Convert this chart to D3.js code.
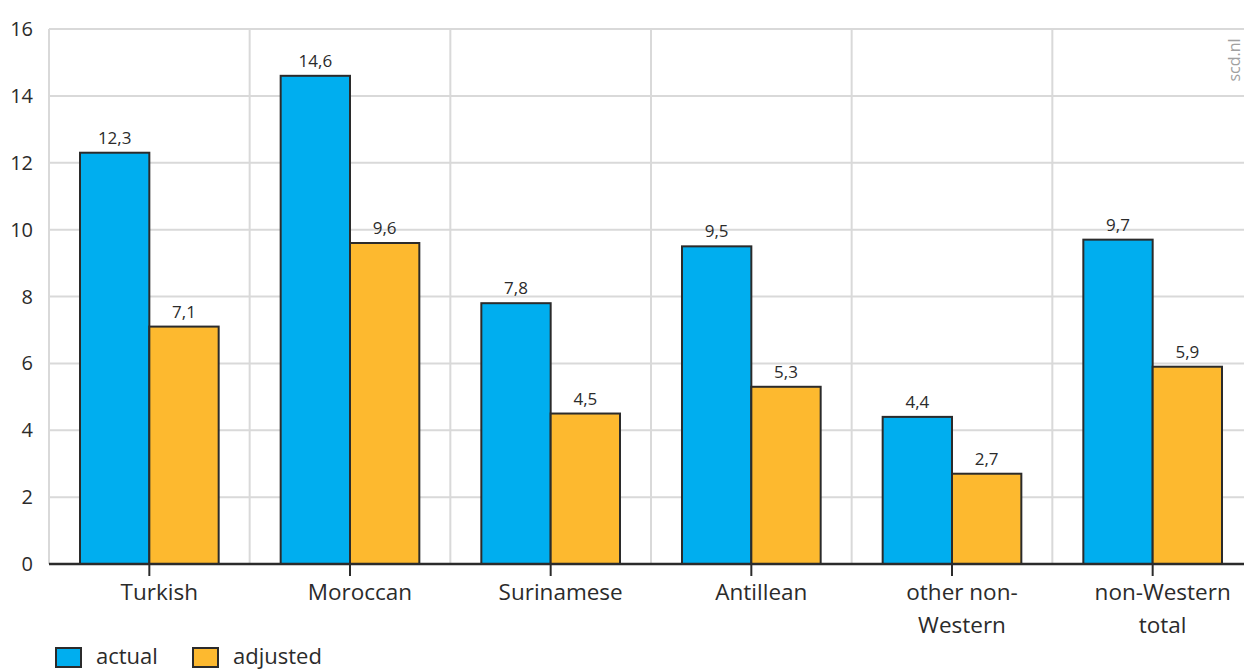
<!DOCTYPE html>
<html><head><meta charset="utf-8">
<script src="https://cdn.jsdelivr.net/npm/d3@7"></script>
<style>body{margin:0;background:#fff}svg{display:block}text{font-family:"Open Sans","Noto Sans",sans-serif;fill:#2b2b2b}</style>
</head><body><svg id="c" width="1244" height="669"></svg>
<script>
const categories = [["Turkish"],["Moroccan"],["Surinamese"],["Antillean"],["other non-","Western"],["non-Western","total"]];
const seriesNames = ["actual","adjusted"];
const actual = [12.3,14.6,7.8,9.5,4.4,9.7];
const adjusted = [7.1,9.6,4.5,5.3,2.7,5.9];
const yTicks = [0,2,4,6,8,10,12,14,16];
const colors = ["#00aeef","#fdb92f"];

(function(){
const svg = d3.select("#c");
const mLeft = 49, mRight = 1253, mTop = 29, mBottom = 564;
const x = d3.scaleBand().domain(d3.range(categories.length)).range([mLeft,mRight]).paddingInner(0).paddingOuter(0);
const y = d3.scaleLinear().domain([0,16]).range([mBottom,mTop]);
const bw = x.bandwidth();
const pad = 31;
const xs = d3.scaleBand().domain([0,1]).range([pad,bw-pad]);

const g = svg.append("g");
g.selectAll(".hg").data(yTicks.filter(d=>d>0)).join("line")
 .attr("x1",mLeft).attr("x2",mRight).attr("y1",d=>y(d)).attr("y2",d=>y(d))
 .attr("stroke","#d9d9d9").attr("stroke-width",2);
g.selectAll(".vg").data(d3.range(categories.length)).join("line")
 .attr("x1",d=>x(d)).attr("x2",d=>x(d)).attr("y1",mTop).attr("y2",mBottom)
 .attr("stroke","#d9d9d9").attr("stroke-width",2);

svg.append("g").selectAll("text").data(yTicks).join("text")
 .attr("x",33).attr("y",d=>y(d)+7).attr("text-anchor","end")
 .style("font-size","20px").text(d=>d);

const data = categories.map((c,i)=>[actual[i],adjusted[i]]);
const bg = svg.append("g");
data.forEach((vals,i)=>{
  vals.forEach((v,j)=>{
    bg.append("rect").attr("x",x(i)+xs(j)).attr("y",y(v)).attr("width",xs.bandwidth()).attr("height",mBottom-y(v))
      .attr("fill",colors[j]).attr("stroke","#2b2b2b").attr("stroke-width",2);
    bg.append("text").attr("x",x(i)+xs(j)+xs.bandwidth()/2).attr("y",y(v)-9).attr("text-anchor","middle")
      .style("font-size","17px").text(String(v).replace(".",","));
  });
});

svg.append("line").attr("x1",mLeft).attr("x2",mRight).attr("y1",mBottom).attr("y2",mBottom).attr("stroke","#2b2b2b").attr("stroke-width",2.5);
svg.append("g").selectAll("line").data(d3.range(categories.length)).join("line")
 .attr("x1",d=>x(d)+bw/2).attr("x2",d=>x(d)+bw/2).attr("y1",mBottom).attr("y2",mBottom+12)
 .attr("stroke","#2b2b2b").attr("stroke-width",2);
categories.forEach((lines,i)=>{
  const t = svg.append("text").attr("x",x(i)+bw/2+10).attr("y",600).attr("text-anchor","middle").style("font-size","22.5px");
  lines.forEach((l,k)=>t.append("tspan").attr("x",x(i)+bw/2+10).attr("dy",k?33:0).text(l));
});

const lx = [56,193];
seriesNames.forEach((n,j)=>{
  svg.append("rect").attr("x",lx[j]).attr("y",648).attr("width",25).attr("height",19).attr("fill",colors[j]).attr("stroke","#2b2b2b").attr("stroke-width",2);
  svg.append("text").attr("x",lx[j]+40).attr("y",664).style("font-size","22px").text(n);
});

svg.append("text").attr("transform","translate(1240,60) rotate(-90)").attr("text-anchor","middle")
 .style("font-size","16px").style("fill","#a0a0a0").text("scd.nl");
})();
</script></body></html>
